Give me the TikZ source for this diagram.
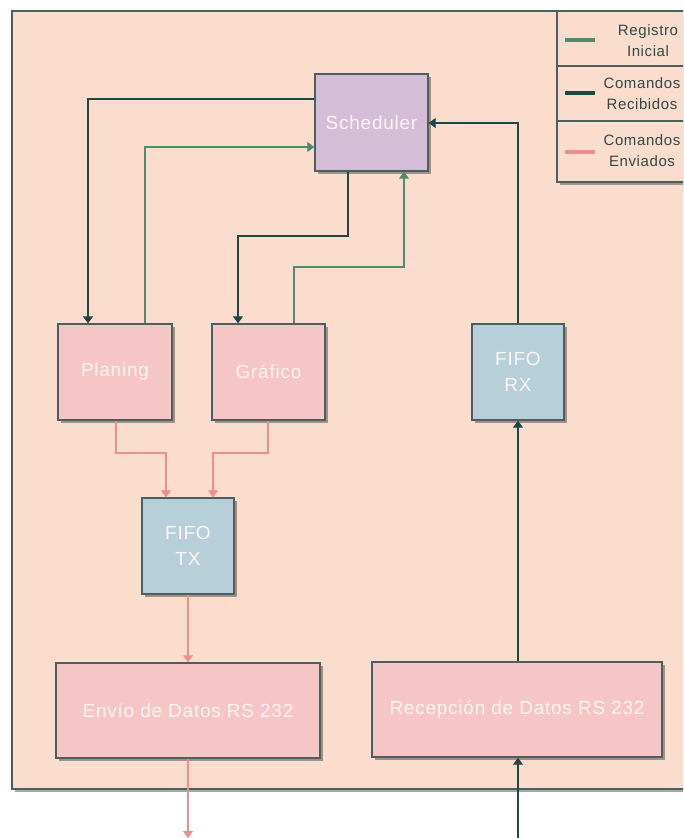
\documentclass[tikz,border=0pt]{standalone}
\usepackage{fontspec}
\setmainfont{Liberation Sans}[LetterSpace=4]
\usetikzlibrary{arrows.meta,shadows}
\definecolor{bgpeach}{HTML}{FADDCD}
\definecolor{framec}{HTML}{4A5F5F}
\definecolor{schedfill}{HTML}{D6BDD7}
\definecolor{pinkfill}{HTML}{F6C5C6}
\definecolor{bluefill}{HTML}{B7CFD9}
\definecolor{darkc}{HTML}{1E4646}
\definecolor{greenc}{HTML}{4F8C6C}
\definecolor{pinkc}{HTML}{EF8C8C}
\definecolor{textc}{HTML}{FDF4F4}
\definecolor{legtext}{HTML}{33484A}
\tikzset{
  box/.style={draw=framec, line width=1.4pt, text=textc, font=\fontsize{19}{26}\selectfont,
    align=center, inner sep=0pt,
    drop shadow={shadow xshift=3pt, shadow yshift=-3pt, opacity=0.35, fill=black}},
  tipa/.style={-{Triangle[width=10pt,length=7pt]}},
  dk/.style={tipa, draw=darkc, line width=1.1pt},
  gr/.style={tipa, draw=greenc, line width=1.1pt},
  pk/.style={tipa, draw=pinkc, line width=1.1pt},
  legtxt/.style={text=legtext, font=\fontsize{15}{21}\selectfont, align=center, inner sep=0pt},
}
\begin{document}
\begin{tikzpicture}[x=1pt,y=-1pt]
\useasboundingbox (0,0) rectangle (683,838);
\clip (0,0) rectangle (683,838);
\fill[white] (0,0) rectangle (683,838);
% outer frame
\draw[draw=framec, line width=1.5pt, fill=bgpeach,
  drop shadow={shadow xshift=3pt, shadow yshift=-3pt, opacity=0.35, fill=black}]
  (12,11) rectangle (720,789);
% legend
\draw[draw=framec, line width=1.3pt, fill=bgpeach,
  drop shadow={shadow xshift=3pt, shadow yshift=-3pt, opacity=0.35, fill=black}]
  (557,11) rectangle (720,182);
\draw[draw=framec, line width=1.3pt] (557,66) -- (720,66);
\draw[draw=framec, line width=1.3pt] (557,121) -- (720,121);
\draw[greenc, line width=4pt] (565,40) -- (595,40);
\draw[darkc, line width=4pt] (565,93) -- (595,93);
\draw[pinkc, line width=4pt] (565,152) -- (595,152);
\node[legtxt] (l1) at (648,41) {Registro\\Inicial};
\node[legtxt] (l2) at (642,94) {Comandos\\Recibidos};
\node[legtxt] (l3) at (642,151) {Comandos\\Enviados};
% boxes
\node[box, fill=schedfill, minimum width=113pt, minimum height=97pt] (sched) at (371.5,122.5) {Scheduler};
\node[box, fill=pinkfill, minimum width=114pt, minimum height=96pt] (plan) at (115,372) {Planing};
\node[box, fill=pinkfill, minimum width=113pt, minimum height=96pt] (graf) at (268.5,372) {Gráfico};
\node[box, fill=bluefill, minimum width=92pt, minimum height=96pt] (fiforx) at (518,372) {FIFO\\RX};
\node[box, fill=bluefill, minimum width=92pt, minimum height=96pt] (fifotx) at (188,546) {FIFO\\TX};
\node[box, fill=pinkfill, minimum width=264pt, minimum height=95pt] (envio) at (188,710.5) {Envío de Datos RS 232};
\node[box, fill=pinkfill, minimum width=290pt, minimum height=95pt] (recep) at (517,709.5) {Recepción de Datos RS 232};
% connectors
\draw[dk] (sched.west |- 0,99) -| (plan.north -| 88,0);
\draw[gr] (plan.north -| 145,0) |- (sched.west |- 0,147);
\draw[dk] (sched.south -| 348,0) -- (348,236) -- (238,236) -- (graf.north -| 238,0);
\draw[gr] (graf.north -| 294,0) -- (294,267) -- (404,267) -- (sched.south -| 404,0);
\draw[pk] (plan.south -| 116,0) -- (116,453) -- (166,453) -- (fifotx.north -| 166,0);
\draw[pk] (graf.south -| 268,0) -- (268,453) -- (213,453) -- (fifotx.north -| 213,0);
\draw[pk] (fifotx.south) -- (envio.north);
\coordinate (outtx) at (188,838);
\draw[pk] (envio.south) -- (outtx);
\coordinate (inrx) at (518,845);
\draw[dk] (inrx) -- (recep.south -| 518,0);
\draw[dk] (recep.north -| 518,0) -- (fiforx.south);
\draw[dk] (fiforx.north) |- (sched.east |- 0,123);
\end{tikzpicture}
\end{document}
